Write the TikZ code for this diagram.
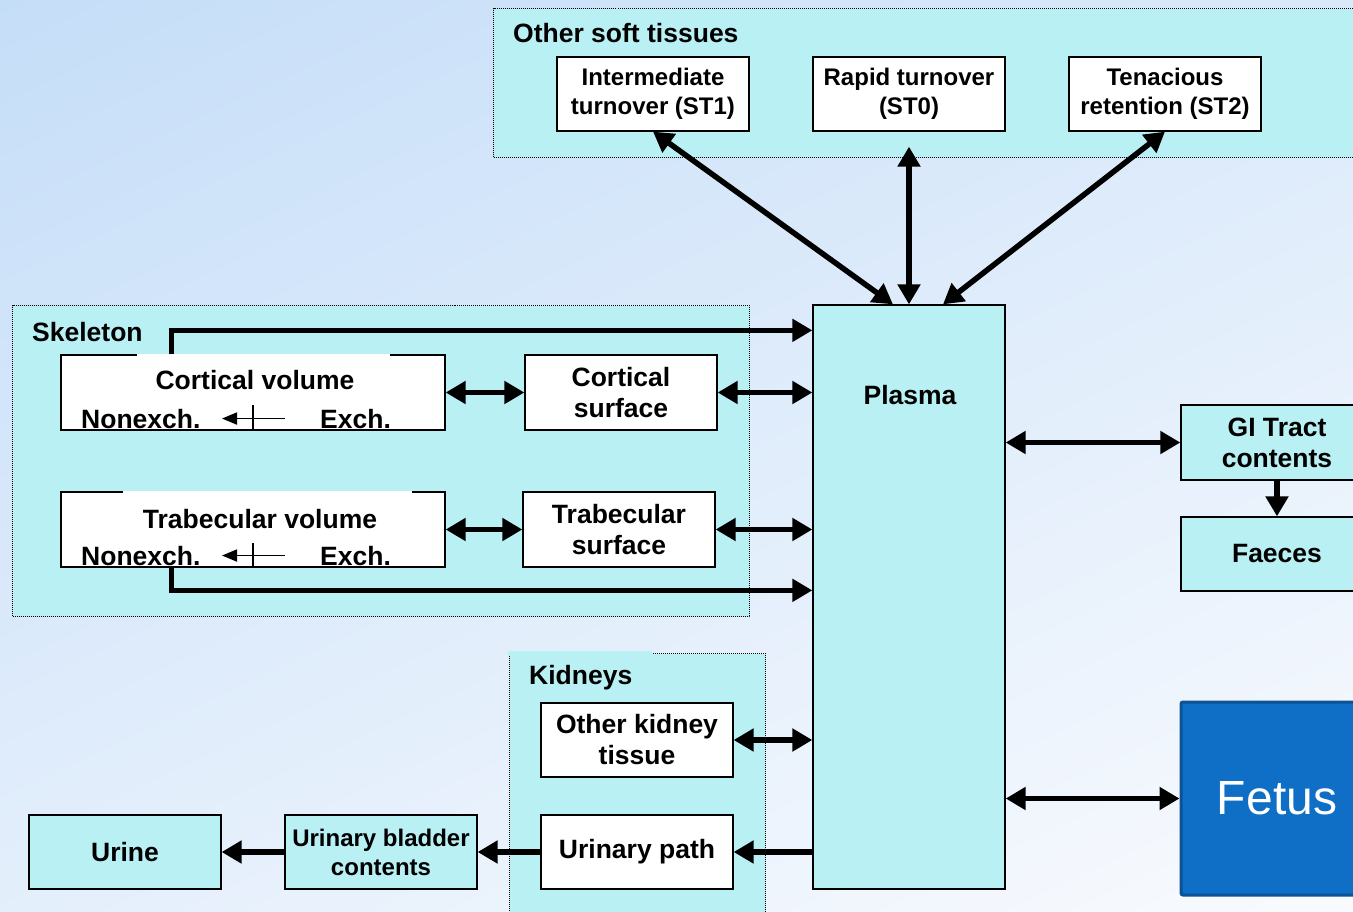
\documentclass[tikz,border=0pt]{standalone}
\usepackage{fontspec}
\setmainfont{Liberation Sans}
\usetikzlibrary{arrows.meta, positioning}
\definecolor{tissue}{RGB}{184,240,244}
\definecolor{fetusblue}{RGB}{15,110,198}
\definecolor{fetusedge}{RGB}{12,82,150}
\definecolor{bgtop}{RGB}{196,221,248}
\definecolor{bgbottom}{RGB}{250,251,254}

\begin{document}
\begin{tikzpicture}[x=1pt, y=-1pt,
    font=\fontsize{26.5}{31}\selectfont\bfseries,
    box/.style={draw, line width=1.3pt, fill=white, minimum width=192pt, minimum height=74pt, align=center, inner sep=0pt},
    organ/.style={box, fill=tissue},
    small/.style={font=\fontsize{24}{29}\selectfont\bfseries},
    group/.style={draw, line width=1pt, dash pattern=on 1pt off 1pt, fill=tissue, anchor=north west, inner sep=0pt},
    flow/.style={line width=5.5pt, line join=miter, -{Triangle[length=20pt,width=22pt]}},
    dflow/.style={flow, {Triangle[length=20pt,width=22pt]}-{Triangle[length=20pt,width=22pt]}},
    swap/.style={line width=1.8pt, -{Triangle[length=15pt,width=12pt]}},
    title/.style={anchor=west, inner sep=0pt}]
  \useasboundingbox (0,0) rectangle (1353,911);
  \clip (0,0) rectangle (1353,911);
  \shade[top color=bgtop, bottom color=bgbottom, shading angle=25] (-200,-200) rectangle (1553,1111);

  \node[group, minimum width=900pt, minimum height=149pt] (soft) at (493,8) {};
  \node[group, minimum width=737pt, minimum height=311pt] (skel) at (12,305) {};
  \node[group, minimum width=256pt, minimum height=300pt] (kid) at (509,653) {};
  \fill[tissue] (508,651) rectangle (652,655);
  \node[title] (softname) at (513,33) {Other soft tissues};
  \node[title] (skelname) at (32,332) {Skeleton};
  \node[title] (kidname) at (529,678) {Kidneys};

  \node[box, small] (st1) at (653,94) {Intermediate\\turnover (ST1)};
  \node[box, small] (st0) at (909,94) {Rapid turnover\\(ST0)};
  \node[box, small] (st2) at (1165,94) {Tenacious\\retention (ST2)};

  \node[organ, minimum height=584pt] (plasma) at (909,597) {};
  \node (plasmaname) at (910,395) {Plasma};

  \node[box, minimum width=384pt, minimum height=75pt] (cvol) at (253,392.5) {};
  \fill[white] (137,353.5) rectangle (390,356.5);
  \node (cvolname) at (255,380) {Cortical volume};
  \node[anchor=base west, inner sep=0pt] (cvnon) at (81,428) {Nonexch.};
  \node[anchor=base west, inner sep=0pt] (cvex) at (320,428) {Exch.};
  \draw[swap] ([xshift=-35pt]cvex.west) -- ([xshift=-98pt]cvex.west);
  \draw[line width=1.5pt] (253,405) -- (253,430);
  \node[box, minimum height=75pt] (csurf) at (621,392.5) {Cortical\\surface};

  \node[box, minimum width=384pt, minimum height=75pt] (tvol) at (253,529.5) {};
  \fill[white] (123,490.5) rectangle (412,493.5);
  \node (tvolname) at (260,519) {Trabecular volume};
  \node[anchor=base west, inner sep=0pt] (tvnon) at (81,565) {Nonexch.};
  \node[anchor=base west, inner sep=0pt] (tvex) at (320,565) {Exch.};
  \draw[swap] ([xshift=-35pt]tvex.west) -- ([xshift=-98pt]tvex.west);
  \draw[line width=1.5pt] (253,543) -- (253,567);
  \node[box, minimum height=75pt] (tsurf) at (619,529.5) {Trabecular\\surface};

  \node[organ, minimum height=75pt] (gi) at (1277,442.5) {GI Tract\\contents};
  \node[organ] (faeces) at (1277,554) {Faeces};

  \node[box] (okt) at (637,740) {Other kidney\\tissue};
  \node[box] (upath) at (637,852) {Urinary path};
  \node[organ, small] (bladder) at (381,852) {Urinary bladder\\contents};
  \node[organ] (urine) at (125,852) {Urine};

  \node[draw=fetusedge, fill=fetusblue, line width=3pt, rounded corners=2pt, minimum width=192pt, minimum height=193pt,
        text=white, font=\fontsize{48}{56}\selectfont] (fetus) at (1277,798.5) {Fetus};

  \draw[dflow] (st1.south) -- ([xshift=-16pt]plasma.north);
  \draw[dflow, shorten <=15pt] (st0.south) -- (plasma.north);
  \draw[dflow] (st2.south) -- ([xshift=34pt]plasma.north);

  \draw[flow] ([xshift=111pt]cvol.north west) |- ([yshift=-26pt]plasma.north west);
  \draw[dflow] (cvol.east) -- (csurf.west);
  \draw[dflow] (csurf.east) -- (csurf.east -| plasma.west);
  \draw[dflow] (tvol.east) -- (tsurf.west);
  \draw[dflow] (tsurf.east) -- (tsurf.east -| plasma.west);
  \draw[flow] ([xshift=111pt]tvol.south west) |- ([yshift=-286pt]plasma.north west);

  \draw[dflow] (gi.west -| plasma.east) -- (gi.west);
  \draw[flow] (gi.south) -- (faeces.north);
  \draw[dflow] (fetus.west -| plasma.east) -- (fetus.west);

  \draw[dflow] (okt.east) -- (okt.east -| plasma.west);
  \draw[flow] (upath.east -| plasma.west) -- (upath.east);
  \draw[flow] (upath.west) -- (bladder.east);
  \draw[flow] (bladder.west) -- (urine.east);
\end{tikzpicture}
\end{document}
